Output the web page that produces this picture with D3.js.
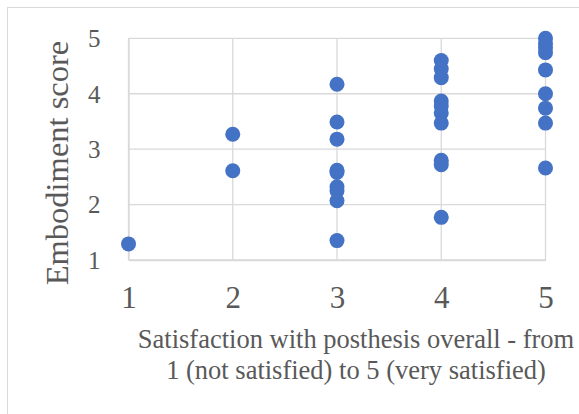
<!DOCTYPE html>
<html><head><meta charset="utf-8">
<script src="https://cdn.jsdelivr.net/npm/d3@7"></script>
<style>html,body{margin:0;padding:0;background:#fff;}svg{display:block;}</style>
</head><body>
<script>
// x = satisfaction (1-5), y = embodiment score, paired by index
const satisfaction = [1, 2, 2, 3, 3, 3, 3, 3, 3, 3, 3, 3,
  4, 4, 4, 4, 4, 4, 4, 4, 4, 4,
  5, 5, 5, 5, 5, 5, 5, 5, 5];
const embodimentScores = [1.29, 3.27, 2.61, 4.17, 3.49, 3.18, 2.62, 2.58, 2.32, 2.25, 2.07, 1.35,
  4.60, 4.45, 4.29, 3.87, 3.78, 3.65, 3.47, 2.80, 2.72, 1.77,
  5.00, 4.91, 4.83, 4.74, 4.43, 4.00, 3.74, 3.47, 2.66];
const xTicks = [1, 2, 3, 4, 5];
const yTicks = [1, 2, 3, 4, 5];
const xTitleLines = ["Satisfaction with posthesis overall - from", "1 (not satisfied) to 5 (very satisfied)"];
const yTitle = "Embodiment score";

const W = 579, H = 414;
const svg = d3.select("body").append("svg").attr("width", W).attr("height", H);
svg.append("rect").attr("x", 7.5).attr("y", 7.5).attr("width", W + 10).attr("height", H + 10)
  .attr("fill", "#fff").attr("stroke", "#d9d9d9").attr("stroke-width", 1);

const x = d3.scaleLinear().domain([1, 5]).range([128.5, 545.5]);
const y = d3.scaleLinear().domain([1, 5]).range([260, 38.3]);
const font = "'Liberation Serif','Times New Roman',serif";
const grey = "#595959";

// gridlines
svg.append("g").selectAll("line").data(yTicks).join("line")
  .attr("x1", x(1)).attr("x2", x(5)).attr("y1", d => y(d)).attr("y2", d => y(d))
  .attr("stroke", "#d9d9d9").attr("stroke-width", 1.3);
svg.append("g").selectAll("line").data(xTicks).join("line")
  .attr("y1", y(1)).attr("y2", y(5)).attr("x1", d => x(d)).attr("x2", d => x(d))
  .attr("stroke", "#d9d9d9").attr("stroke-width", 1.3);

// axes (labels)
const xAxis = d3.axisBottom(x).tickValues(xTicks).tickFormat(d3.format("d")).tickSize(0).tickPadding(0);
const gx = svg.append("g").attr("transform", `translate(0,${y(1)})`).call(xAxis);
gx.select(".domain").attr("stroke", "#d9d9d9").attr("stroke-width", 1.3);
gx.selectAll("text").attr("font-family", font).attr("font-size", 31).attr("fill", grey)
  .attr("dy", null).attr("y", 48);

const yAxis = d3.axisLeft(y).tickValues(yTicks).tickFormat(d3.format("d")).tickSize(0).tickPadding(28);
const gy = svg.append("g").attr("transform", `translate(${x(1)},0)`).call(yAxis);
gy.select(".domain").attr("stroke", "#d9d9d9").attr("stroke-width", 1.3);
gy.selectAll("text").attr("font-family", font).attr("font-size", 25).attr("fill", grey)
  .attr("dy", null).attr("y", 8.4);

// points
svg.append("g").selectAll("circle").data(embodimentScores).join("circle")
  .attr("cx", (d, i) => x(satisfaction[i])).attr("cy", d => y(d)).attr("r", 7.5)
  .attr("fill", "#4472C4");

// titles
svg.append("text").attr("x", 356).attr("y", 348.3).attr("text-anchor", "middle")
  .attr("font-family", font).attr("font-size", 26.5).attr("fill", grey)
  .selectAll("tspan").data(xTitleLines).join("tspan")
  .attr("x", 356).attr("dy", (d, i) => i === 0 ? 0 : 31).text(d => d);

svg.append("text").attr("transform", "translate(68,163) rotate(-90)").attr("text-anchor", "middle")
  .attr("font-family", font).attr("font-size", 32.5).attr("fill", grey).text(yTitle);
</script>
</body></html>
